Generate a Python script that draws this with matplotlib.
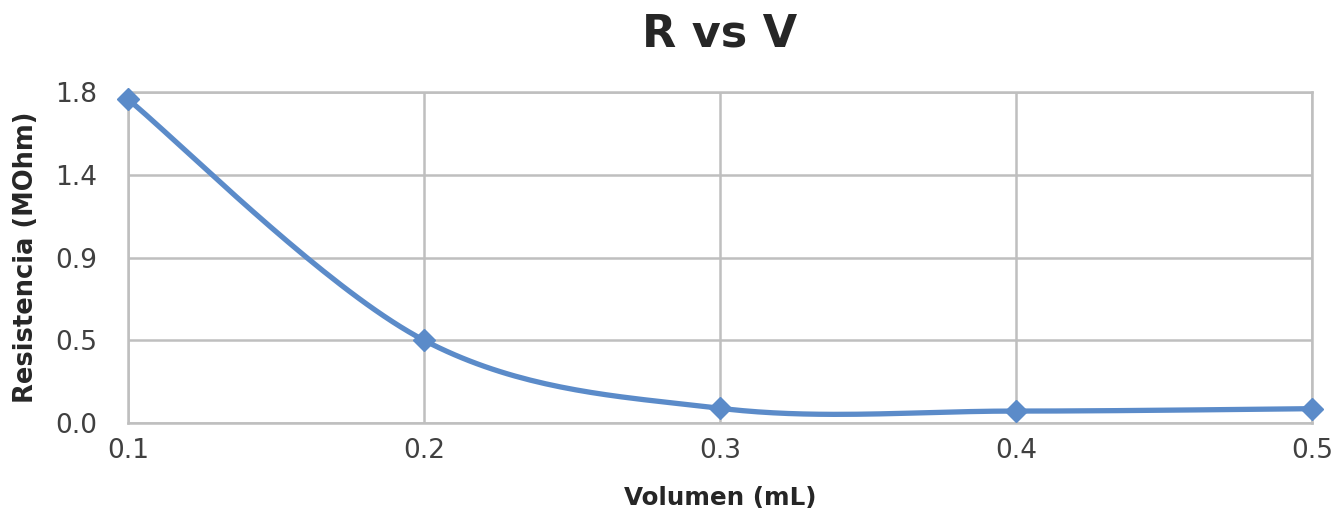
import numpy as np
import matplotlib.pyplot as plt
from matplotlib.ticker import FuncFormatter

# Volume (mL) vs resistance (MOhm)
volumen = [0.1, 0.2, 0.3, 0.4, 0.5]
resistencia = [1.76, 0.45, 0.08, 0.065, 0.078]

y_ticks = [0.0, 0.45, 0.9, 1.35, 1.8]
x_ticks = [0.1, 0.2, 0.3, 0.4, 0.5]


def smooth_curve(x, y, n=40):
    # cubic Bezier through each point, control points from neighbour slopes
    x = np.asarray(x, float)
    y = np.asarray(y, float)
    xs, ys = [], []
    for i in range(len(x) - 1):
        p0 = np.array([x[max(i - 1, 0)], y[max(i - 1, 0)]])
        p1 = np.array([x[i], y[i]])
        p2 = np.array([x[i + 1], y[i + 1]])
        p3 = np.array([x[min(i + 2, len(x) - 1)], y[min(i + 2, len(x) - 1)]])
        c1 = p1 + (p2 - p0) / 6
        c2 = p2 - (p3 - p1) / 6
        t = np.linspace(0, 1, n)[:, None]
        pts = ((1 - t) ** 3 * p1 + 3 * (1 - t) ** 2 * t * c1
               + 3 * (1 - t) * t ** 2 * c2 + t ** 3 * p2)
        xs.extend(pts[:, 0])
        ys.extend(pts[:, 1])
    return xs, ys


plt.rcParams['font.family'] = ['DejaVu Sans']

fig = plt.figure(figsize=(13.43, 5.13), dpi=100)
ax = fig.add_axes([0.0953, 0.1754, 0.8817, 0.6453])

line_color = '#5B8BC9'
sx, sy = smooth_curve(volumen, resistencia)
ax.plot(sx, sy, color=line_color, linewidth=3.8, solid_capstyle='round', zorder=3)
ax.plot(volumen, resistencia, linestyle='none', marker='D', markersize=11,
        color=line_color, zorder=4, clip_on=False)

ax.set_xlim(0.1, 0.5)
ax.set_ylim(0, 1.8)
ax.set_xticks(x_ticks)
ax.set_yticks(y_ticks)
ax.xaxis.set_major_formatter(FuncFormatter(lambda v, p: f'{v:.1f}'))
ax.yaxis.set_major_formatter(FuncFormatter(lambda v, p: f'{v + 1e-9:.1f}'))

ax.grid(True, color='#BFBFBF', linewidth=1.8, zorder=0)
for s in ax.spines.values():
    s.set_color('#BFBFBF')
    s.set_linewidth(1.8)
ax.tick_params(length=0, labelsize=19, labelcolor='#404040')
ax.tick_params(axis='x', pad=11)
ax.tick_params(axis='y', pad=22)

ax.set_title('R vs V', fontsize=32, fontweight='bold', color='#262626', pad=33)
ax.set_xlabel('Volumen (mL)', fontsize=17.7, fontweight='bold', color='#262626')
ax.set_ylabel('Resistencia (MOhm)', fontsize=18.5, fontweight='bold', color='#262626')
ax.xaxis.set_label_coords(0.5, -0.19)
ax.yaxis.set_label_coords(-0.075, 0.5)

fig.savefig('out.png', dpi=100, facecolor='white')
